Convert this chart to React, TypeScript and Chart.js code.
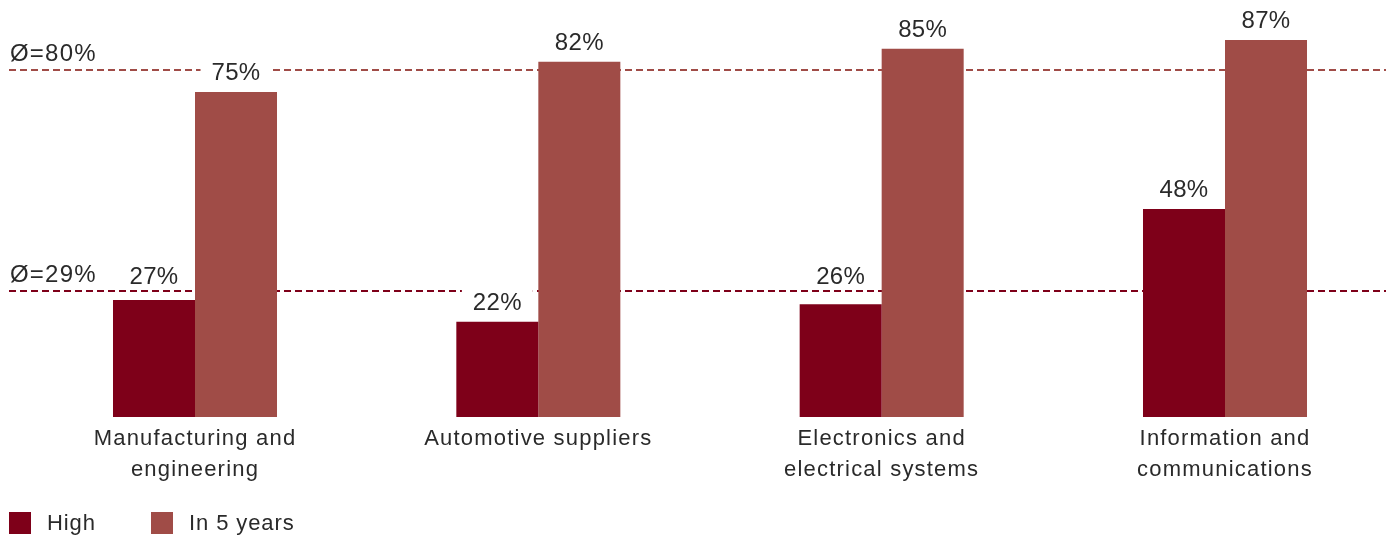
import React, { useEffect, useRef } from "react";
import { Chart, registerables } from "chart.js";

Chart.register(...registerables);

const categories: string[][] = [
  ["Manufacturing and", "engineering"],
  ["Automotive suppliers"],
  ["Electronics and", "electrical systems"],
  ["Information and", "communications"],
];
const seriesLabels = ["High", "In 5 years"];
const highValues = [27, 22, 26, 48];
const in5YearsValues = [75, 82, 85, 87];
const averageValues = [80, 29];
const averageLabels = ["Ø=80%", "Ø=29%"];

const HIGH_COLOR = "#7e0019";
const IN5_COLOR = "#a04c47";
const TEXT_COLOR = "#2a2a2a";
const FONT = '"Liberation Sans", Arial, Helvetica, sans-serif';

const overlayPlugin = {
  id: "overlay",
  beforeDraw(chart: any) {
    chart.ctx.letterSpacing = "1.2px";
  },
  beforeDatasetsDraw(chart: any) {
    const ctx = chart.ctx as CanvasRenderingContext2D;
    const y = chart.scales.y;
    ctx.save();
    averageValues.forEach((v, i) => {
      const py = Math.round(y.getPixelForValue(v));
      ctx.strokeStyle = i === 0 ? IN5_COLOR : HIGH_COLOR;
      ctx.lineWidth = 2;
      ctx.setLineDash([7, 4]);
      ctx.beginPath();
      ctx.moveTo(9, py);
      ctx.lineTo(chart.width, py);
      ctx.stroke();
      ctx.setLineDash([]);
      ctx.font = `24px ${FONT}`;
      (ctx as any).letterSpacing = "1.2px";
      ctx.fillStyle = TEXT_COLOR;
      ctx.textAlign = "left";
      ctx.textBaseline = "alphabetic";
      ctx.fillText(averageLabels[i], 10, py - 9);
    });
    ctx.restore();
  },
  afterDatasetsDraw(chart: any) {
    const ctx = chart.ctx as CanvasRenderingContext2D;
    const y = chart.scales.y;
    const linePixels = averageValues.map((v) => Math.round(y.getPixelForValue(v)));
    ctx.save();
    ctx.font = `24px ${FONT}`;
    (ctx as any).letterSpacing = "0.3px";
    ctx.textAlign = "center";
    ctx.textBaseline = "alphabetic";
    chart.data.datasets.forEach((ds: any, di: number) => {
      const meta = chart.getDatasetMeta(di);
      meta.data.forEach((bar: any, i: number) => {
        const text = `${ds.data[i]}%`;
        const x = bar.x;
        let base = bar.y - 12;
        linePixels.forEach((lp) => {
          if (lp > base - 6 && lp < base + 4) base = lp - 7;
        });
        const w = ctx.measureText(text).width + 22;
        ctx.fillStyle = "#ffffff";
        ctx.fillRect(x - w / 2, base - 21, w, 20);
        ctx.fillStyle = TEXT_COLOR;
        ctx.fillText(text, x, base);
      });
    });
    ctx.restore();

    // legend
    ctx.save();
    ctx.font = `22px ${FONT}`;
    (ctx as any).letterSpacing = "0.9px";
    ctx.textAlign = "left";
    ctx.textBaseline = "middle";
    const boxX = [9, 151];
    chart.data.datasets.forEach((ds: any, di: number) => {
      ctx.fillStyle = ds.backgroundColor;
      ctx.fillRect(boxX[di], 512, 22, 22);
      ctx.fillStyle = TEXT_COLOR;
      ctx.fillText(ds.label, boxX[di] + 38, 524);
    });
    ctx.restore();
  },
};

export default function App() {
  const canvasRef = useRef<HTMLCanvasElement | null>(null);

  useEffect(() => {
    if (!canvasRef.current) return;
    const chart = new Chart(canvasRef.current, {
      type: "bar",
      data: {
        labels: categories,
        datasets: [
          {
            label: seriesLabels[0],
            data: highValues,
            backgroundColor: HIGH_COLOR,
            borderWidth: 0,
            categoryPercentage: 0.4777,
            barPercentage: 1,
            clip: false,
          },
          {
            label: seriesLabels[1],
            data: in5YearsValues,
            backgroundColor: IN5_COLOR,
            borderWidth: 0,
            categoryPercentage: 0.4777,
            barPercentage: 1,
            clip: false,
          },
        ],
      },
      options: {
        animation: false,
        responsive: false,
        layout: { padding: { left: 195, right: 161, top: 27, bottom: 0 } },
        plugins: {
          legend: { display: false },
          tooltip: { enabled: false },
        },
        scales: {
          x: {
            type: "category",
            offset: false,
            grid: { display: false, drawTicks: false },
            border: { display: false },
            ticks: {
              autoSkip: false,
              maxRotation: 0,
              minRotation: 0,
              padding: 6,
              color: TEXT_COLOR,
              font: { family: FONT, size: 22, lineHeight: "31px" },
            },
            afterFit(scale: any) {
              scale.height = 120;
            },
          },
          y: {
            display: false,
            min: 0,
            max: 90,
            grid: { display: false },
          },
        },
      },
      plugins: [overlayPlugin],
    } as any);
    return () => chart.destroy();
  }, []);

  return (
    <div style={{ position: "fixed", left: 0, top: 0, width: 1386, height: 537, background: "#fff" }}>
      <canvas ref={canvasRef} width={1386} height={537} style={{ display: "block", width: 1386, height: 537 }} />
    </div>
  );
}
